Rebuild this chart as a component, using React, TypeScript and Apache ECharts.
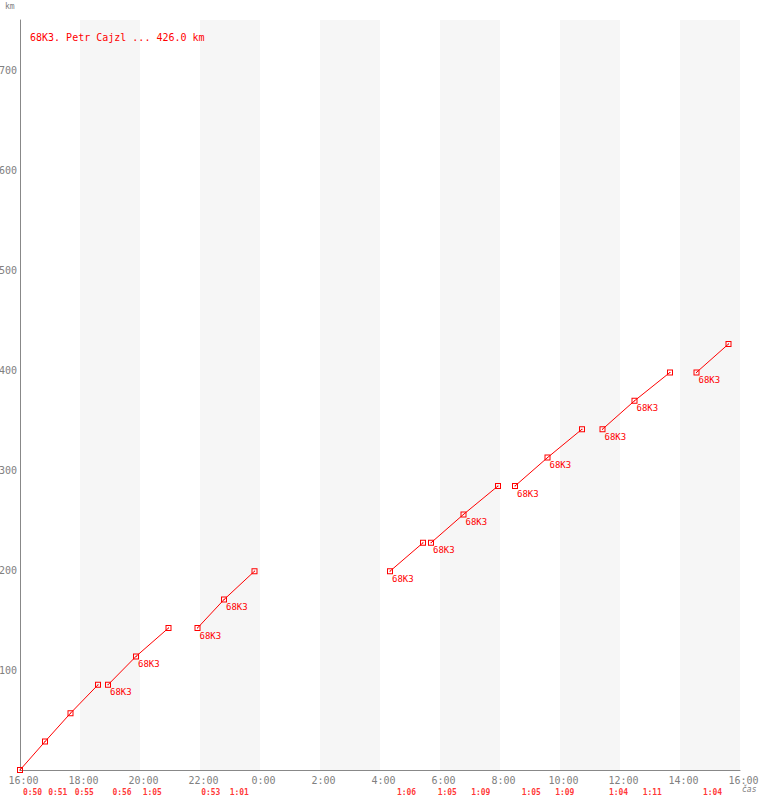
import React, { useEffect, useRef } from 'react';
import * as echarts from 'echarts';

const chartTitle = '68K3. Petr Cajzl ... 426.0 km';
const yAxisName = 'km';
const xAxisName = 'čas';
const crewLabel = '68K3';

// lap end times per continuous stint (start of stint first)
const segmentTimes: string[][] = [
  ['16:00', '16:50', '17:41', '18:36'],
  ['18:56', '19:52', '20:57'],
  ['21:55', '22:48', '23:49'],
  ['04:20', '05:26'],
  ['05:42', '06:47', '07:56'],
  ['08:30', '09:35', '10:44'],
  ['11:25', '12:29', '13:40'],
  ['14:33', '15:37'],
];

const segmentKm: number[][] = [
  [0, 28.4, 56.8, 85.2],
  [85.2, 113.6, 142.0],
  [142.0, 170.4, 198.8],
  [198.8, 227.2],
  [227.2, 255.6, 284.0],
  [284.0, 312.4, 340.8],
  [340.8, 369.2, 397.6],
  [397.6, 426.0],
];

const pointLabels: boolean[][] = [
  [false, false, false, false],
  [true, true, false],
  [true, true, false],
  [true, false],
  [true, true, false],
  [true, true, false],
  [true, true, false],
  [true, false],
];

const lapDurations: string[] = [
  '0:50', '0:51', '0:55',
  '0:56', '1:05',
  '0:53', '1:01',
  '1:06',
  '1:05', '1:09',
  '1:05', '1:09',
  '1:04', '1:11',
  '1:04',
];

const toHours = (t: string): number => {
  const [h, m] = t.split(':').map(Number);
  const v = h + m / 60;
  return v < 16 ? v + 24 : v;
};

const RED = '#ff0000';
const GRAY = '#808080';
const FONT = '"DejaVu Sans Mono", "Liberation Mono", monospace';
const markerPath = 'path://M0 0H6V6H0Z M1 1V5H5V1Z M2.5 2.5H3.5V3.5H2.5Z';

export default function App() {
  const ref = useRef<HTMLDivElement>(null);

  useEffect(() => {
    if (!ref.current) return;
    const chart = echarts.init(ref.current, undefined, { renderer: 'svg' });

    const lineSeries = segmentTimes.map((times, si) => ({
      type: 'line',
      data: times.map((t, i) => ({
        value: [toHours(t), segmentKm[si][i]],
        label: { show: pointLabels[si][i] },
      })),
      symbol: markerPath,
      symbolSize: 6,
      showAllSymbol: true,
      lineStyle: { color: RED, width: 1 },
      itemStyle: { color: RED, borderWidth: 0 },
      label: {
        show: false,
        formatter: crewLabel,
        position: [5, 6],
        align: 'left',
        verticalAlign: 'top',
        color: RED,
        fontSize: 9,
        fontFamily: FONT,
      },
      emphasis: { disabled: true },
      silent: true,
      z: 3,
    }));

    const lapData: { value: number[]; name: string }[] = [];
    let k = 0;
    segmentTimes.forEach((times) => {
      for (let i = 0; i < times.length - 1; i++) {
        const mid = (toHours(times[i]) + toHours(times[i + 1])) / 2;
        lapData.push({ value: [mid, 0], name: lapDurations[k] });
        k++;
      }
    });

    const lapSeries = {
      type: 'scatter',
      data: lapData,
      symbolSize: 0,
      clip: false,
      silent: true,
      label: {
        show: true,
        formatter: (p: any) => p.name,
        position: 'inside',
        offset: [0, 22],
        align: 'center',
        verticalAlign: 'middle',
        color: RED,
        fontSize: 8,
        fontWeight: 'bold',
        fontFamily: FONT,
      },
      z: 4,
    };

    chart.setOption({
      animation: false,
      backgroundColor: '#ffffff',
      title: {
        text: chartTitle,
        left: 30,
        top: 32,
        padding: 0,
        textStyle: { color: RED, fontSize: 10, fontWeight: 'normal', fontFamily: FONT },
      },
      grid: {
        left: 20,
        right: 20,
        top: 20,
        bottom: 30,
        containLabel: false,
        outerBoundsMode: 'none',
      },
      xAxis: {
        type: 'value',
        min: 16,
        max: 40,
        interval: 2,
        axisLine: { show: true, lineStyle: { color: '#888888', width: 1 } },
        axisTick: { show: false },
        axisLabel: {
          color: GRAY,
          fontSize: 10,
          fontFamily: FONT,
          margin: 5,
          padding: [0, 0, 0, 7],
          formatter: (v: number) => `${Math.round(v) % 24}:00`,
        },
        splitLine: { show: false },
        splitArea: { show: true, areaStyle: { color: ['#ffffff', '#f6f6f6'] } },
      },
      yAxis: {
        type: 'value',
        min: 0,
        max: 750,
        interval: 100,
        axisLine: { show: true, lineStyle: { color: '#888888', width: 1 } },
        axisTick: { show: false },
        axisLabel: {
          color: GRAY,
          fontSize: 10,
          fontFamily: FONT,
          margin: 3,
          showMinLabel: false,
          showMaxLabel: false,
        },
        splitLine: { show: true, showMinLine: false, showMaxLine: false, lineStyle: { color: '#ececec', width: 1 } },
      },
      graphic: [
        {
          type: 'text',
          left: 5,
          top: 2,
          style: { text: yAxisName, fill: GRAY, fontSize: 8, fontFamily: FONT },
        },
        {
          type: 'text',
          left: 742,
          top: 785,
          style: { text: xAxisName, fill: GRAY, fontSize: 8, fontFamily: FONT, fontStyle: 'italic' },
        },
      ],
      series: [...lineSeries, lapSeries],
    });

    return () => chart.dispose();
  }, []);

  return (
    <div
      ref={ref}
      style={{ position: 'fixed', left: 0, top: 0, width: 760, height: 800, background: '#fff' }}
    />
  );
}
